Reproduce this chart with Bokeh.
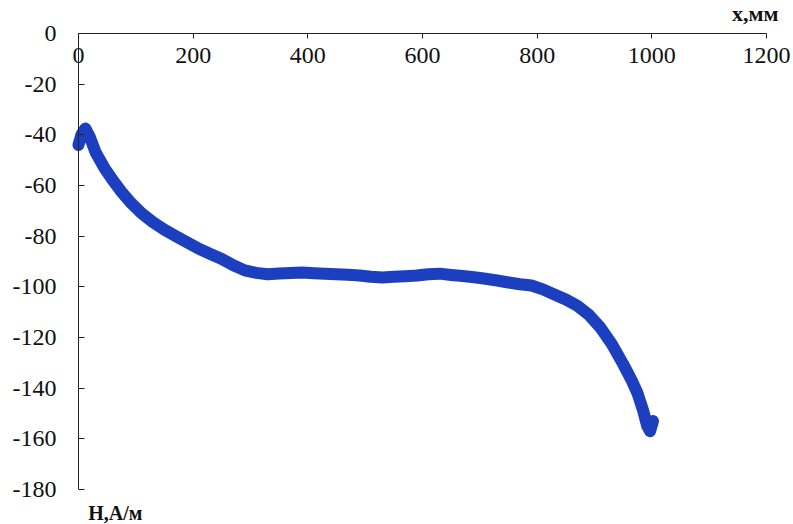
from bokeh.plotting import figure
from bokeh.models import FixedTicker, Label, Range1d
from bokeh.embed import file_html
from bokeh.resources import INLINE

# Data (x in mm, H in A/m)
x_mm = [0, 5, 12, 20, 30, 45, 60, 75, 90, 110, 130, 150, 170, 190, 210, 230,
        250, 270, 290, 310, 330, 350, 370, 390, 410, 430, 450, 470, 490, 510,
        530, 550, 570, 590, 610, 630, 650, 670, 690, 710, 730, 750, 770, 790,
        810, 830, 850, 870, 890, 910, 930, 950, 965, 975, 985, 992, 997, 1002]
h_am = [-44, -40, -37.5, -41, -47, -53, -58, -62.5, -66.5, -71, -74.5, -77.5,
        -80, -82.5, -85, -87, -89, -91.5, -93.5, -94.5, -95, -94.7, -94.5,
        -94.3, -94.6, -94.8, -95, -95.2, -95.5, -96, -96.3, -96, -95.8, -95.5,
        -95, -94.8, -95.3, -95.7, -96.2, -96.8, -97.5, -98.3, -99, -99.5,
        -101, -103, -105, -107.5, -111, -116, -122.5, -130.5, -137, -142,
        -149, -155, -157, -153]

x_ticks = [0, 200, 400, 600, 800, 1000, 1200]
y_ticks = [0, -20, -40, -60, -80, -100, -120, -140, -160, -180]
y_tick_labels = ["0", "-20", "-40", "-60", "-80", "-100", "-120", "-140", "-160", "-180"]
x_title = "x,мм"
y_title = "H,А/м"

FONT = "Liberation Serif"
W, H = 793, 524
# frame covers whole canvas; axes are drawn at x=0 and H=0 inside it
X0_PX, X1_PX = 78.0, 766.0
Y0_PX, Y1_PX = 33.0, 489.0
sx = (X1_PX - X0_PX) / 1200.0
sy = (Y1_PX - Y0_PX) / 180.0

p = figure(width=W, height=H, output_backend="svg", toolbar_location=None,
           x_range=Range1d(-X0_PX / sx, 1200 + (W - X1_PX) / sx),
           y_range=Range1d(-180 - (H - Y1_PX) / sy, Y0_PX / sy),
           min_border=0)
p.background_fill_color = "white"
p.border_fill_color = "white"
p.outline_line_color = None
p.xgrid.visible = False
p.ygrid.visible = False

xa = p.xaxis[0]
xa.fixed_location = 0
xa.bounds = (0, 1200)
xa.ticker = FixedTicker(ticks=x_ticks)
xa.minor_tick_line_color = None
xa.major_tick_in = 0
xa.major_tick_out = 5
xa.major_label_standoff = 9
xa.axis_line_color = "#222222"
xa.major_tick_line_color = "#222222"
xa.major_label_text_font = FONT
xa.major_label_text_font_size = "24px"
xa.major_label_text_color = "#111111"

ya = p.yaxis[0]
ya.fixed_location = 0
ya.bounds = (-180, 0)
ya.ticker = FixedTicker(ticks=y_ticks)
ya.major_label_overrides = {t: s for t, s in zip(y_ticks, y_tick_labels)}
ya.minor_tick_line_color = None
ya.major_tick_in = 6
ya.major_tick_out = 0
ya.major_label_standoff = 22
ya.axis_line_color = "#222222"
ya.major_tick_line_color = "#222222"
ya.major_label_text_font = FONT
ya.major_label_text_font_size = "24px"
ya.major_label_text_color = "#111111"

p.line(x_mm, h_am, line_color="#1c3fbf", line_width=12,
       line_cap="round", line_join="round")

p.add_layout(Label(x=1221, y=3, text=x_title, text_align="right",
                   text_baseline="bottom", text_font=FONT,
                   text_font_style="bold", text_font_size="22px",
                   text_color="#111111"))
p.add_layout(Label(x=17, y=-184.8, text=y_title, text_align="left",
                   text_baseline="top", text_font=FONT,
                   text_font_style="bold", text_font_size="20px",
                   text_color="#111111"))

open("out.html", "w").write(file_html(p, INLINE))
